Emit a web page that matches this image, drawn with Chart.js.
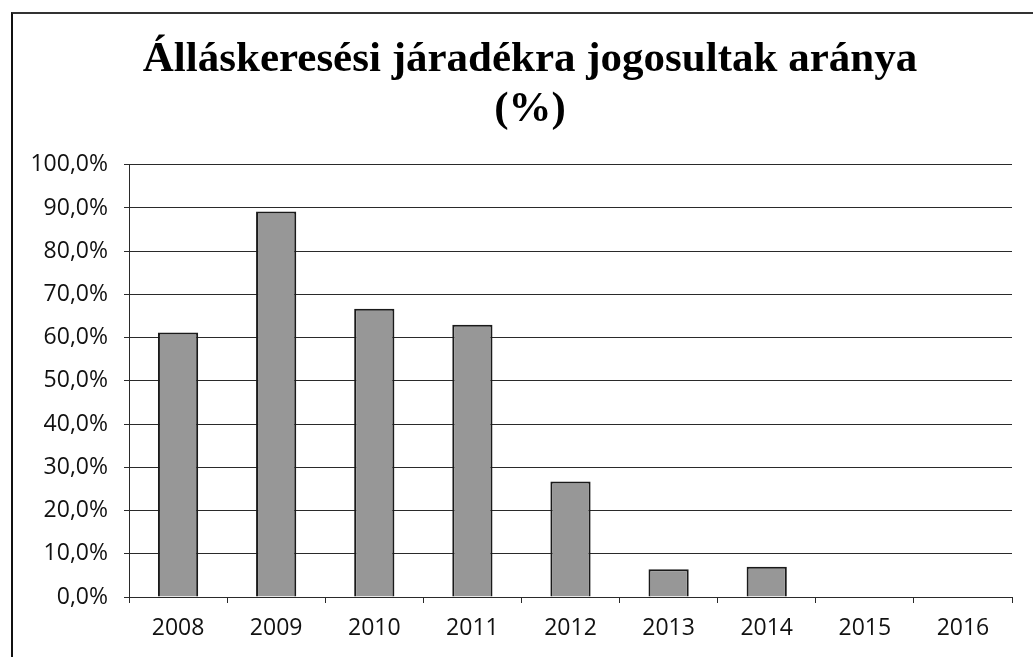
<!DOCTYPE html>
<html>
<head>
<meta charset="utf-8">
<script src="https://cdn.jsdelivr.net/npm/chart.js@4/dist/chart.umd.min.js"></script>
<style>
  html, body { margin: 0; padding: 0; background: #fff; }
  #wrap { position: relative; width: 1033px; height: 657px; overflow: hidden; }
  #frame { position: absolute; left: 11px; top: 12px; width: 1040px; height: 700px;
           border-left: 2px solid #111; border-top: 2px solid #333; pointer-events: none; }
  canvas { position: absolute; left: 0; top: 0; }
</style>
</head>
<body>
<div id="wrap">
  <canvas id="c" width="1033" height="657"></canvas>
  <div id="frame"></div>
</div>
<script>
const titleLines = ['Álláskeresési járadékra jogosultak aránya', '(%)'];
const years = ['2008', '2009', '2010', '2011', '2012', '2013', '2014', '2015', '2016'];
const shares = [61.2, 89.2, 66.7, 63.0, 26.7, 6.4, 7.0, null, null];
const yMin = 0;
const yMax = 100;
const yStep = 10;

const gridColor = '#2a2a2a';
const textColor = '#111';

// shift the title's horizontal box so it is centred like the original
const titleShift = {
  id: 'titleShift',
  afterLayout(chart) {
    const t = chart.titleBlock;
    if (t) { t.left = 48; t.width = t.right - t.left; }
  }
};

new Chart(document.getElementById('c'), {
  type: 'bar',
  data: {
    labels: years,
    datasets: [{
      data: shares,
      backgroundColor: '#979797',
      borderColor: '#1a1a1a',
      borderWidth: 2,
      borderSkipped: 'bottom',
      barPercentage: 0.41,
      categoryPercentage: 1.0
    }]
  },
  plugins: [titleShift],
  options: {
    responsive: false,
    animation: false,
    layout: { padding: { left: 0, right: 21, top: 0, bottom: 0 } },
    plugins: {
      legend: { display: false },
      tooltip: { enabled: false },
      title: {
        display: true,
        text: titleLines,
        color: '#000',
        font: { family: 'Liberation Serif', weight: 'bold', size: 43, lineHeight: 1.16 },
        padding: { top: 35, bottom: 30 }
      }
    },
    scales: {
      x: {
        offset: true,
        grid: { display: true, drawOnChartArea: false, drawTicks: true, tickLength: 6,
                color: gridColor, offset: true },
        border: { display: true, color: gridColor, width: 1 },
        ticks: { color: textColor, font: { family: 'Open Sans', size: 23 }, padding: 12 },
        afterFit: (s) => { s.height = 60; }
      },
      y: {
        min: yMin,
        max: yMax,
        grid: { color: gridColor, lineWidth: 1, tickLength: 5, drawTicks: true },
        border: { display: true, color: gridColor, width: 1 },
        ticks: {
          stepSize: yStep,
          color: textColor,
          font: { family: 'Open Sans', size: 23 },
          padding: 16,
          callback: (v) => v.toFixed(1).replace('.', ',') + '%'
        },
        afterFit: (s) => { s.width = 129; }
      }
    }
  }
});
</script>
</body>
</html>
